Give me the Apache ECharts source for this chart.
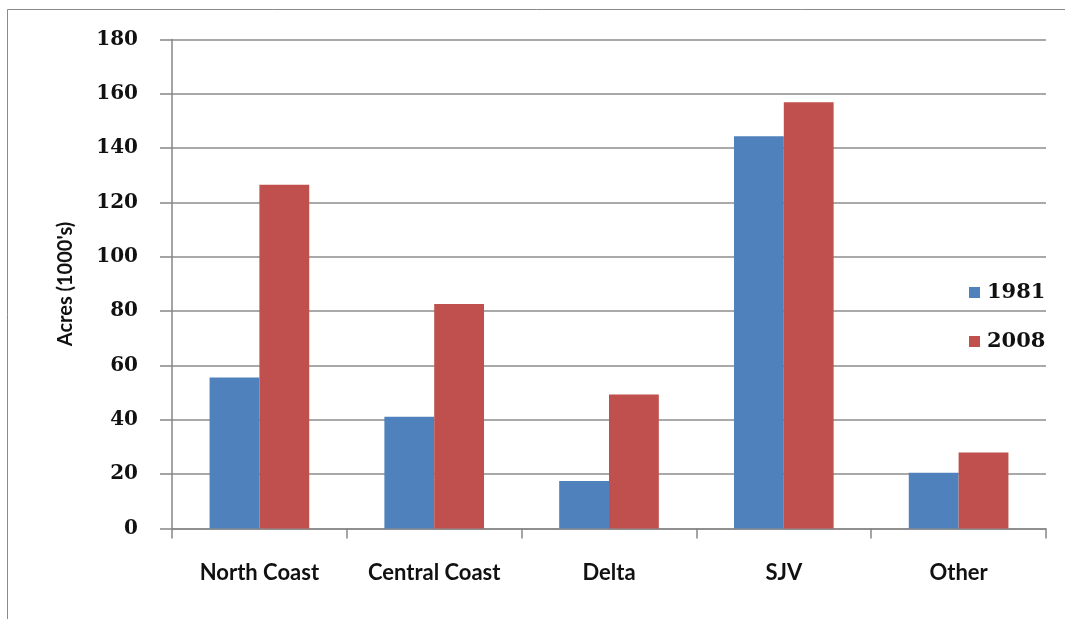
<!DOCTYPE html>
<html>
<head>
<meta charset="utf-8">
<script src="https://cdn.jsdelivr.net/npm/echarts@6/dist/echarts.min.js"></script>
<style>
html,body{margin:0;padding:0;background:#fff;}
#chart{width:1065px;height:619px;}
</style>
</head>
<body>
<div id="chart"></div>
<script>
const categories = ['North Coast', 'Central Coast', 'Delta', 'SJV', 'Other'];
const seriesNames = ['1981', '2008'];
const values1981 = [55.6, 41.1, 17.5, 144.4, 20.5];
const values2008 = [126.5, 82.6, 49.3, 156.9, 28.0];
const yTicks = [0, 20, 40, 60, 80, 100, 120, 140, 160, 180];
const yAxisTitle = "Acres (1000's)";

const chart = echarts.init(document.getElementById('chart'), null, {renderer: 'canvas'});
const serifFont = '"DejaVu Serif", serif';
const sansFont = 'Lato, "Open Sans", sans-serif';
chart.setOption({
  animation: false,
  backgroundColor: '#ffffff',
  graphic: [{
    type: 'rect', left: 5, top: 7, silent: true,
    shape: {width: 1200, height: 800},
    style: {fill: 'none', stroke: '#8a8a8a', lineWidth: 1}
  }],
  grid: {left: 172, right: 19, top: 39.5, bottom: 90.5, containLabel: false},
  legend: {
    orient: 'vertical', left: 964, top: 277,
    itemWidth: 11, itemHeight: 11, itemGap: 28,
    icon: 'rect',
    textStyle: {fontFamily: serifFont, fontWeight: 'bold', fontSize: 21, color: '#111', padding: [0,0,0,2]},
    data: seriesNames
  },
  xAxis: {
    type: 'category',
    data: categories,
    axisLine: {lineStyle: {color: '#868686', width: 1.5}},
    axisTick: {show: true, interval: 0, length: 10, alignWithLabel: false, lineStyle: {color: '#868686', width: 1.5}},
    axisLabel: {interval: 0, hideOverlap: false, margin: 33, fontFamily: sansFont, fontWeight: 'bold', fontSize: 22, color: '#111'}
  },
  yAxis: {
    type: 'value', min: 0, max: 180, interval: 20,
    name: yAxisTitle, nameLocation: 'middle', nameGap: 96, nameRotate: 90,
    nameTextStyle: {fontFamily: sansFont, fontWeight: 'bold', fontSize: 20, color: '#111'},
    axisLine: {show: true, lineStyle: {color: '#868686', width: 1.5}},
    axisTick: {show: true, length: 12, lineStyle: {color: '#868686', width: 1.5}},
    axisLabel: {margin: 34, fontFamily: serifFont, fontWeight: 'bold', fontSize: 20, color: '#111',
      formatter: v => yTicks.includes(v) ? String(v) : ''},
    splitLine: {lineStyle: {color: '#8c8c8c', width: 1.5}}
  },
  series: [
    {name: seriesNames[0], type: 'bar', data: values1981, barGap: '0%', barCategoryGap: '43%',
     itemStyle: {color: '#4F81BD'}},
    {name: seriesNames[1], type: 'bar', data: values2008, barGap: '0%', barCategoryGap: '43%',
     itemStyle: {color: '#C0504D'}}
  ]
});
</script>
</body>
</html>
